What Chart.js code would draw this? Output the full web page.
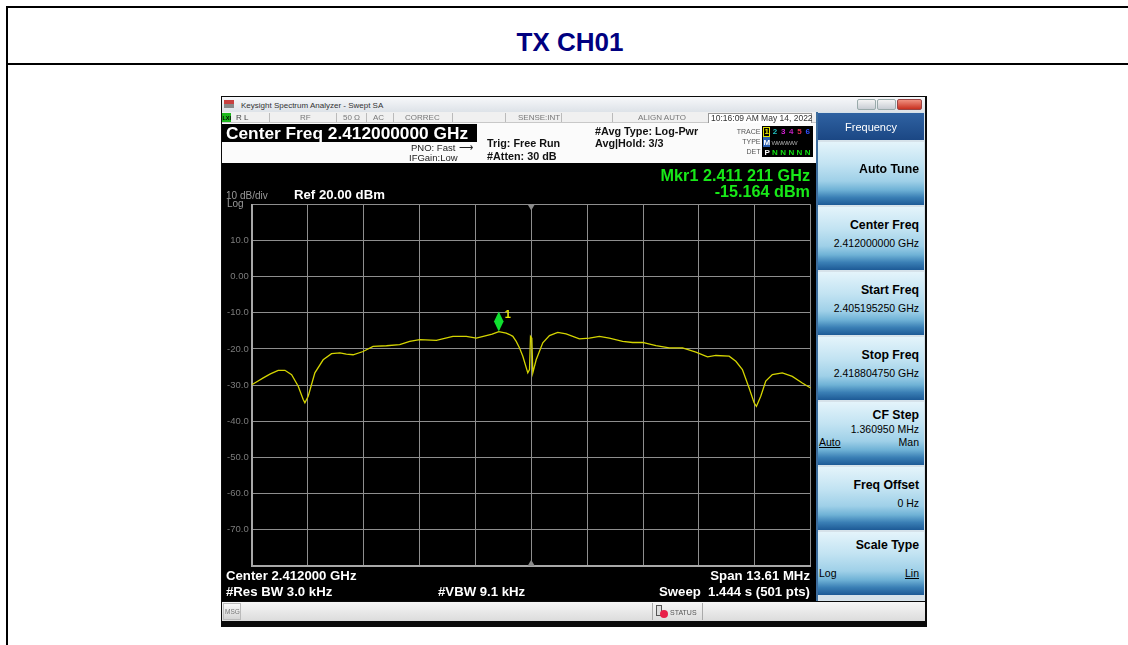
<!DOCTYPE html>
<html><head><meta charset="utf-8">
<script src="https://cdn.jsdelivr.net/npm/chart.js@4.4.1/dist/chart.umd.min.js"></script>
<style>
html,body{margin:0;padding:0;background:#fff;width:1128px;height:645px;overflow:hidden;font-family:Arial,"Liberation Sans",sans-serif;}
.a{position:absolute;box-sizing:border-box;}
.key{position:absolute;left:818px;width:106px;height:63px;background:linear-gradient(#e4f4fb 0%,#c2e3f2 35%,#9fd0e8 62%,#6fb2d6 76%,#3a7fb5 88%,#1d5a96 100%);}
</style>
</head><body>
<div class="a" style="left:6px;top:6px;width:1130px;height:700px;border-left:2px solid #000;border-top:2px solid #000;"></div>
<div class="a" style="left:6px;top:63px;width:1130px;height:2px;background:#000;"></div>
<div class="a" id="title" style="left:8px;width:1124px;top:29px;text-align:center;font-weight:bold;font-size:26px;line-height:26px;color:#000080;">TX CH01</div>

<!-- analyzer screenshot -->
<div class="a" style="left:221px;top:96px;width:706px;height:531px;background:#0a0a0a;"></div>
<div class="a" style="left:222px;top:97px;width:703px;height:15px;background:linear-gradient(#f7f8fa,#dde2e8);"></div>
<div class="a" style="left:224px;top:100px;width:10px;height:8px;background:linear-gradient(#c84040 0 45%,#888 45% 100%);"></div>
<div class="a" style="left:857px;top:99px;width:19px;height:11px;border:1px solid #9aa;border-radius:2px;background:linear-gradient(#f4f4f4,#c8cdd4);"></div>
<div class="a" style="left:877px;top:99px;width:19px;height:11px;border:1px solid #9aa;border-radius:2px;background:linear-gradient(#f4f4f4,#c8cdd4);"></div>
<div class="a" style="left:897px;top:99px;width:25px;height:11px;border:1px solid #944;border-radius:2px;background:linear-gradient(#f09080,#c83020);"></div>
<!-- status row -->
<div class="a" style="left:222px;top:112px;width:594px;height:11px;background:#f0f0f0;border-bottom:1px solid #c8c8c8;"></div>
<div class="a" style="left:222px;top:113px;width:9px;height:9px;background:#1db81d;"></div>
<div class="a" style="left:269px;top:113px;width:1px;height:9px;background:#bbb;"></div>
<div class="a" style="left:336px;top:113px;width:1px;height:9px;background:#bbb;"></div>
<div class="a" style="left:366px;top:113px;width:1px;height:9px;background:#bbb;"></div>
<div class="a" style="left:393px;top:113px;width:1px;height:9px;background:#bbb;"></div>
<div class="a" style="left:452px;top:113px;width:1px;height:9px;background:#bbb;"></div>
<div class="a" style="left:505px;top:113px;width:1px;height:9px;background:#bbb;"></div>
<div class="a" style="left:561px;top:113px;width:1px;height:9px;background:#bbb;"></div>
<div class="a" style="left:612px;top:113px;width:1px;height:9px;background:#bbb;"></div>
<div class="a" style="left:708px;top:113px;width:104px;height:11px;background:#fff;border:1px solid #999;"></div>
<!-- header white -->
<div class="a" style="left:222px;top:123px;width:594px;height:40px;background:#fbfbfb;"></div>
<div class="a" style="left:222px;top:124px;width:255px;height:18px;background:#000;"></div>
<div class="a" style="left:762px;top:126px;width:51px;height:31px;background:#000;"></div>
<div class="a" style="left:763px;top:127px;width:7px;height:10px;border:1px solid #e0e000;"></div>
<div class="a" style="left:763px;top:137px;width:7px;height:10px;background:#2a5fb0;"></div>
<!-- display -->
<div class="a" style="left:222px;top:163px;width:594px;height:438px;background:#000;">
  <canvas id="c" width="594" height="437" style="position:absolute;left:0;top:0;width:594px;height:437px;"></canvas>
</div>
<!-- msg bar -->
<div class="a" style="left:222px;top:602px;width:703px;height:19px;background:linear-gradient(#f6f6f6,#dcdcdc);"></div>
<div class="a" style="left:223px;top:603px;width:18px;height:17px;border:1px solid #bbb;background:linear-gradient(#fafafa,#d4d4d4);"></div>
<div class="a" style="left:652px;top:603px;width:1px;height:17px;background:#aaa;"></div>
<div class="a" style="left:702px;top:603px;width:1px;height:17px;background:#aaa;"></div>
<div class="a" style="left:656px;top:605px;width:6px;height:11px;border:1px solid #555;background:#ddd;"></div>
<div class="a" style="left:660px;top:610px;width:8px;height:8px;border-radius:50%;background:#e8204a;"></div>
<!-- right panel -->
<div class="a" style="left:816px;top:112px;width:109px;height:489px;background:#d6e2ea;"></div>
<div class="a" style="left:816px;top:112px;width:2px;height:489px;background:#3d6d9d;"></div>
<div class="a" style="left:818px;top:113px;width:106px;height:27px;background:linear-gradient(#2f62a2,#1b4784);"></div>
<div class="key" style="top:142px;"></div>
<div class="key" style="top:207px;"></div>
<div class="key" style="top:272px;"></div>
<div class="key" style="top:337px;"></div>
<div class="key" style="top:402px;"></div>
<div class="key" style="top:467px;"></div>
<div class="key" style="top:532px;"></div>

<script>
// ---- data ----
const freqMHz = [2405.195,2405.300,2405.477,2405.650,2405.841,2406.004,2406.167,2406.328,2406.449,2406.490,
  2406.571,2406.733,2406.935,2407.139,2407.341,2407.500,2407.664,2407.907,2408.150,2408.476,
  2408.799,2409.042,2409.285,2409.691,2410.094,2410.420,2410.663,2410.906,2411.050,2411.211,
  2411.392,2411.473,2411.553,2411.635,2411.716,2411.796,2411.917,2411.959,2411.983,2412.015,
  2412.039,2412.121,2412.282,2412.445,2412.646,2412.850,2413.174,2413.417,2413.660,2413.903,
  2414.226,2414.469,2414.712,2415.038,2415.361,2415.684,2416.010,2416.292,2416.496,2416.819,
  2416.982,2417.142,2417.305,2417.427,2417.483,2417.589,2417.711,2417.871,2418.114,2418.357,
  2418.600,2418.805];
const levelDbm = [-29.9,-29.2,-28.0,-26.9,-25.9,-25.9,-27.1,-30.3,-34.0,-34.9,
  -33.1,-26.6,-23.0,-21.3,-21.1,-21.4,-21.6,-20.7,-19.3,-19.1,
  -18.8,-17.9,-17.4,-17.6,-16.5,-16.5,-17.0,-16.3,-15.9,-15.2,
  -15.6,-16.0,-16.5,-17.9,-19.7,-22.0,-26.6,-25.7,-16.5,-17.0,
  -26.6,-23.0,-18.3,-16.3,-15.4,-15.8,-17.2,-17.0,-16.5,-17.0,
  -17.9,-18.2,-18.2,-19.1,-19.7,-19.7,-20.9,-22.2,-21.8,-22.0,
  -23.4,-25.7,-30.8,-34.9,-35.9,-33.1,-28.9,-27.1,-26.6,-27.6,
  -29.4,-30.8];
const startMHz = 2405.19525, stopMHz = 2418.80475, centerMHz = 2412.000;
const markerFreqMHz = [2411.211];
const markerDbm = [-15.164];
const refLevel = 20, bottomLevel = -80, dbPerDiv = 10;
const xDivisions = 10;

// ---- text helper ----
function T(txt, x, base, size, o) {
  o = o || {};
  const s = document.createElement('div');
  s.textContent = txt;
  s.style.cssText = 'position:absolute;white-space:pre;font-size:' + size + 'px;line-height:' + size + 'px;top:' +
    (base - 0.8465 * size) + 'px;color:' + (o.c || '#000') + ';font-weight:' + (o.b ? 'bold' : 'normal') +
    ';font-family:Arial,"Liberation Sans",sans-serif;' + (o.ls ? 'letter-spacing:' + o.ls + 'px;' : '');
  if (o.a === 'r') s.style.right = (1128 - x) + 'px';
  else if (o.a === 'c') { s.style.left = x + 'px'; s.style.transform = 'translateX(-50%)'; }
  else s.style.left = x + 'px';
  if (o.u) s.style.textDecoration = 'underline';
  document.body.appendChild(s);
}
T('Keysight Spectrum Analyzer - Swept SA', 241, 108.5, 8, {c:'#333'});
T('LXI', 222.5, 120.5, 5.5, {c:'#000', b:true});
T('R L', 236, 121, 8, {c:'#444'});
T('RF', 300, 121, 8, {c:'#777'});
T('50 Ω', 343, 121, 8, {c:'#777'});
T('AC', 373, 121, 8, {c:'#777'});
T('CORREC', 405, 121, 8, {c:'#777'});
T('SENSE:INT', 518, 121, 8, {c:'#777'});
T('ALIGN AUTO', 638, 121, 8, {c:'#777'});
T('10:16:09 AM May 14, 2022', 711, 121.5, 8.5, {c:'#333'});
T('Center Freq 2.412000000 GHz', 226, 139.5, 17.3, {c:'#fff', b:true});
T('PNO: Fast', 411, 151, 9.5, {c:'#222'});
T('⟶', 459, 151, 9.5, {c:'#222'});
T('IFGain:Low', 409, 161, 9.5, {c:'#222'});
T('Trig: Free Run', 487, 147.3, 10.8, {c:'#111', b:true});
T('#Atten: 30 dB', 487, 160, 10.8, {c:'#111', b:true});
T('#Avg Type: Log-Pwr', 595, 135.3, 10.8, {c:'#111', b:true});
T('Avg|Hold: 3/3', 595, 147.3, 10.8, {c:'#111', b:true});
T('TRACE', 760.5, 133.5, 7, {c:'#555', a:'r'});
T('TYPE', 760.5, 144, 7, {c:'#555', a:'r'});
T('DET', 760.5, 154, 7, {c:'#555', a:'r'});
const trCols = ['#e8e800','#20c0c0','#d020d0','#c020c0','#e03050','#3050ff'];
['1','2','3','4','5','6'].forEach((d, i) => T(d, 764.5 + i * 8.2, 135, 8, {c: trCols[i], b: true}));
T('M', 763.5, 145.5, 8, {c:'#fff', b:true});
T('WWWWW', 771.5, 145, 6.2, {c:'#aaa', ls:-0.8});
T('P', 764.5, 155.5, 8, {c:'#fff', b:true});
['N','N','N','N','N'].forEach((d, i) => T(d, 772 + i * 8.2, 155.5, 8, {c:'#10e010', b:true}));
T('Mkr1 2.411 211 GHz', 810, 180.8, 16.2, {c:'#18e818', b:true, a:'r'});
T('-15.164 dBm', 810, 197.2, 16.2, {c:'#18e818', b:true, a:'r'});
T('10 dB/div', 226, 199, 10, {c:'#9a9a9a'});
T('Log', 227, 207, 10, {c:'#9a9a9a'});
T('Ref 20.00 dBm', 294, 198.8, 13.2, {c:'#fff', b:true});
T('Center 2.412000 GHz', 226, 580.6, 13.2, {c:'#fff', b:true});
T('#Res BW 3.0 kHz', 226, 596.2, 13.2, {c:'#fff', b:true});
T('#VBW 9.1 kHz', 438, 596.2, 13.2, {c:'#fff', b:true});
T('Span 13.61 MHz', 810, 580.6, 13.2, {c:'#fff', b:true, a:'r'});
T('Sweep  1.444 s (501 pts)', 810, 596.2, 13.2, {c:'#fff', b:true, a:'r'});
T('MSG', 225, 614.5, 6.5, {c:'#777'});
T('STATUS', 670, 614.5, 7, {c:'#555'});
T('Frequency', 871, 131, 11, {c:'#fff', a:'c'});
T('Auto Tune', 919, 173.5, 12.3, {b:true, a:'r'});
T('Center Freq', 919, 229.5, 12.3, {b:true, a:'r'});
T('2.412000000 GHz', 919, 247, 10.5, {a:'r'});
T('Start Freq', 919, 294.5, 12.3, {b:true, a:'r'});
T('2.405195250 GHz', 919, 312, 10.5, {a:'r'});
T('Stop Freq', 919, 359.5, 12.3, {b:true, a:'r'});
T('2.418804750 GHz', 919, 377, 10.5, {a:'r'});
T('CF Step', 919, 419.5, 12.3, {b:true, a:'r'});
T('1.360950 MHz', 919, 433, 10.5, {a:'r'});
T('Auto', 819, 446, 10.5, {u:true});
T('Man', 919, 446, 10.5, {a:'r'});
T('Freq Offset', 919, 489.5, 12.3, {b:true, a:'r'});
T('0 Hz', 919, 507, 10.5, {a:'r'});
T('Scale Type', 919, 549.5, 12.3, {b:true, a:'r'});
T('Log', 819, 577, 10.5, {});
T('Lin', 919, 577, 10.5, {a:'r', u:true});

// ---- chart ----
const markerPlugin = {
  id: 'markerPlugin',
  afterDatasetsDraw(chart) {
    const ctx = chart.ctx, ca = chart.chartArea;
    const cx = chart.scales.x.getPixelForValue(centerMHz);
    ctx.save();
    ctx.fillStyle = '#8a8a8a';
    ctx.beginPath(); ctx.moveTo(cx - 3.5, ca.top); ctx.lineTo(cx + 3.5, ca.top); ctx.lineTo(cx, ca.top + 6); ctx.closePath(); ctx.fill();
    ctx.beginPath(); ctx.moveTo(cx - 3.5, ca.bottom); ctx.lineTo(cx + 3.5, ca.bottom); ctx.lineTo(cx, ca.bottom - 6); ctx.closePath(); ctx.fill();
    const meta = chart.getDatasetMeta(1);
    meta.data.forEach((pt, i) => {
      const x = pt.x, y = pt.y;
      ctx.fillStyle = '#10e030';
      ctx.beginPath();
      ctx.moveTo(x, y); ctx.lineTo(x + 4.8, y - 10); ctx.lineTo(x, y - 20); ctx.lineTo(x - 4.8, y - 10); ctx.closePath(); ctx.fill();
      ctx.fillStyle = '#e8e800';
      ctx.font = 'bold 11px Arial, "Liberation Sans", sans-serif';
      ctx.fillText(String(i + 1), x + 6, y - 14);
    });
    ctx.restore();
  }
};

new Chart(document.getElementById('c'), {
  type: 'line',
  data: {
    datasets: [{
      data: freqMHz.map((f, i) => ({x: f, y: levelDbm[i]})),
      borderColor: '#d4d400', borderWidth: 1.3, pointRadius: 0, tension: 0, fill: false
    }, {
      data: markerFreqMHz.map((f, i) => ({x: f, y: markerDbm[i]})),
      showLine: false, pointRadius: 0, borderColor: 'rgba(0,0,0,0)'
    }]
  },
  options: {
    responsive: false, animation: false, devicePixelRatio: 1,
    layout: {padding: {left: 0, right: 5.3, top: 41.5, bottom: 34.3}},
    plugins: {legend: {display: false}, tooltip: {enabled: false}},
    scales: {
      x: {
        type: 'linear', min: startMHz, max: stopMHz,
        afterBuildTicks: s => { s.ticks = Array.from({length: xDivisions + 1}, (_, i) => ({value: startMHz + i * (stopMHz - startMHz) / xDivisions})); },
        afterFit: s => { s.height = 0; },
        ticks: {display: false},
        grid: {color: '#8e8e8e', lineWidth: 1, drawTicks: false},
        border: {color: '#a8a8a8', width: 2}
      },
      y: {
        min: bottomLevel, max: refLevel,
        ticks: {
          stepSize: dbPerDiv, color: '#7c7c7c', padding: 3,
          font: {size: 9.5, family: 'Arial, "Liberation Sans", sans-serif'},
          callback: v => (v === refLevel || v === bottomLevel) ? '' : (v === 0 ? '0.00' : v.toFixed(1))
        },
        afterFit: s => { s.width = 29.7; },
        grid: {color: '#8e8e8e', lineWidth: 1, drawTicks: false},
        border: {color: '#a8a8a8', width: 2}
      }
    }
  },
  plugins: [markerPlugin]
});
</script>
</body></html>
